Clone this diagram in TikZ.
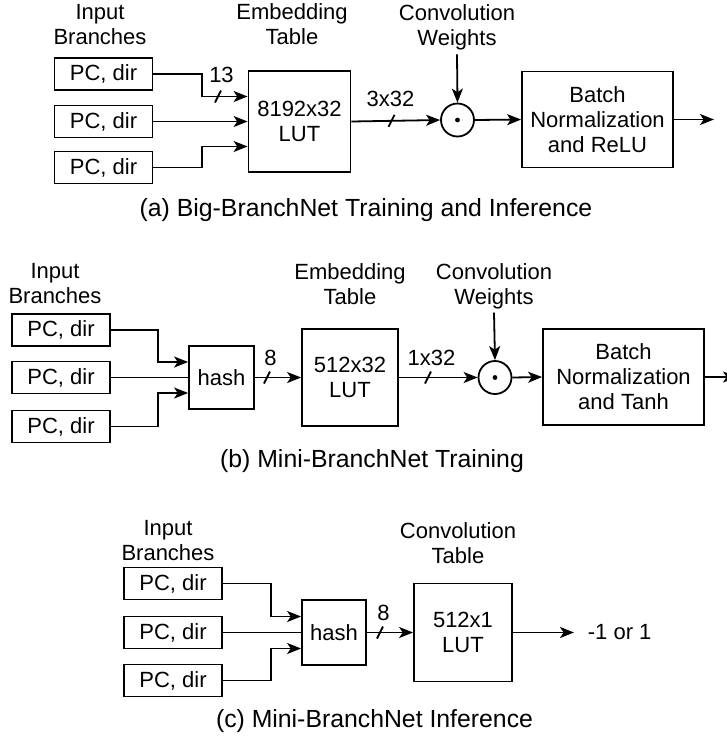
\documentclass[tikz,border=0pt]{standalone}
\usepackage{fontspec}
\setmainfont{Liberation Sans}
\usetikzlibrary{arrows.meta,calc}

\begin{document}
\begin{tikzpicture}[x=0.5pt,y=-0.5pt,>={Stealth[length=7pt,width=5.5pt,inset=1.8pt]},
  line width=0.9pt,every node/.style={font=\fontsize{11}{12.5}\selectfont},
  box/.style={draw,line width=0.9pt,align=center,inner sep=0pt},
  pcbox/.style={box,minimum width=49pt,minimum height=16pt},
  lbl/.style={align=center,inner sep=1.5pt,anchor=north},
  buslbl/.style={anchor=base,inner sep=0pt},
  captext/.style={anchor=base,inner sep=0pt,font=\fontsize{12.4}{14}\selectfont},
  dotop/.style={draw,circle,minimum size=16.5pt,inner sep=0pt},
  flow/.style={->}]
  \useasboundingbox (0,0) rectangle (727,736);

  % (a) Big-BranchNet
  \node[lbl] (inlbla) at (100,0) {Input\\Branches};
  \node[pcbox] (ina1) at (103.5,74) {PC, dir};
  \node[pcbox] (ina2) at (103.5,121.5) {PC, dir};
  \node[pcbox] (ina3) at (103.5,167.5) {PC, dir};
  \node[lbl] (emblbla) at (292,0) {Embedding\\Table};
  \node[box,minimum width=51pt,minimum height=50.5pt] (luta) at (299.5,121.5) {8192x32\\LUT};
  \node[dotop] (dota) at (457.5,120) {};
  \fill (dota) circle (1.2pt);
  \node[lbl] (wta) at (457,1) {Convolution\\Weights};
  \node[box,minimum width=75.5pt,minimum height=48pt] (bna) at (597.5,119.5) {Batch\\Normalization\\and ReLU};
  \coordinate (outa) at (714,119.5);
  \draw[flow] (ina1.east) -- ++(49,0) |- ($(luta.west)+(0,-25)$);
  \draw[flow] (ina2.east) -- (luta.west);
  \draw[flow] (ina3.east) -- ++(49,0) |- ($(luta.west)+(0,25)$);
  \draw[flow] (luta.east) -- (dota.west);
  \draw[flow] (wta.south) -- (dota.north);
  \draw[flow] (dota.east) -- (bna.west);
  \draw[flow] (bna.east) -- (outa);
  \coordinate (sa) at (218,96.5);
  \draw ($(sa)+(-3,6)$) -- ($(sa)+(3,-6)$);
  \node[buslbl] at ($(sa)+(3.5,-14.5)$) {13};
  \coordinate (sb) at (391.5,120.8);
  \draw ($(sb)+(-3,6)$) -- ($(sb)+(3,-6)$);
  \node[buslbl] at ($(sb)+(-1,-14.8)$) {3x32};
  \node[captext] (capa) at (366,216) {(a) Big-BranchNet Training and Inference};

  % (b) Mini-BranchNet training
  \node[lbl] (inlblb) at (55,259.2) {Input\\Branches};
  \node[pcbox] (inb1) at (61,330) {PC, dir};
  \node[pcbox] (inb2) at (61,377.5) {PC, dir};
  \node[pcbox] (inb3) at (61,426.5) {PC, dir};
  \node[box,minimum width=32.5pt,minimum height=31.5pt] (hashb) at (221.5,377.5) {hash};
  \node[lbl] (emblblb) at (350,259.2) {Embedding\\Table};
  \node[box,minimum width=48pt,minimum height=48.5pt] (lutb) at (350,377.5) {512x32\\LUT};
  \node[dotop] (dotb) at (495,377.5) {};
  \fill (dotb) circle (1.2pt);
  \node[lbl] (wtb) at (494,259.2) {Convolution\\Weights};
  \node[box,minimum width=80.5pt,minimum height=48pt] (bnb) at (623.5,377) {Batch\\Normalization\\and Tanh};
  \coordinate (outb) at (737,377);
  \draw[flow] (inb1.east) -- ++(47,0) |- ($(hashb.west)+(0,-15.5)$);
  \draw (inb2.east) -- (hashb.west);
  \draw[flow] (inb3.east) -- ++(47,0) |- ($(hashb.west)+(0,15.5)$);
  \draw[flow] (hashb.east) -- (lutb.west);
  \draw[flow] (lutb.east) -- (dotb.west);
  \draw[flow] (wtb.south) -- (dotb.north);
  \draw[flow] (dotb.east) -- (bnb.west);
  \begin{scope}
    \clip (0,0) rectangle (727,736);
    \draw[flow] (bnb.east) -- (outb);
  \end{scope}
  \coordinate (sc) at (267,377.5);
  \draw ($(sc)+(-3,6)$) -- ($(sc)+(3,-6)$);
  \node[buslbl] at ($(sc)+(3.5,-12.5)$) {8};
  \coordinate (sd) at (428,377.5);
  \draw ($(sd)+(-3,6)$) -- ($(sd)+(3,-6)$);
  \node[buslbl] at ($(sd)+(3.5,-12.5)$) {1x32};
  \node[captext] (capb) at (372,467) {(b) Mini-BranchNet Training};

  % (c) Mini-BranchNet inference
  \node[lbl] (inlblc) at (168,516.2) {Input\\Branches};
  \node[pcbox] (inc1) at (173,583.5) {PC, dir};
  \node[pcbox] (inc2) at (173,632.5) {PC, dir};
  \node[pcbox] (inc3) at (173,680.5) {PC, dir};
  \node[box,minimum width=32pt,minimum height=32.5pt] (hashc) at (334,632.5) {hash};
  \node[lbl] (tbllblc) at (458,518.2) {Convolution\\Table};
  \node[box,minimum width=49pt,minimum height=49pt] (lutc) at (463,632.5) {512x1\\LUT};
  \node[anchor=west,inner sep=1.5pt] (res) at (584,632.5) {-1 or 1};
  \draw[flow] (inc1.east) -- ++(48,0) |- ($(hashc.west)+(0,-16)$);
  \draw (inc2.east) -- (hashc.west);
  \draw[flow] (inc3.east) -- ++(48,0) |- ($(hashc.west)+(0,16)$);
  \draw[flow] (hashc.east) -- (lutc.west);
  \draw[flow,shorten >=5pt] (lutc.east) -- (res.west);
  \coordinate (se) at (380,632.5);
  \draw ($(se)+(-3,6)$) -- ($(se)+(3,-6)$);
  \node[buslbl] at ($(se)+(3.5,-12.5)$) {8};
  \node[captext] (capc) at (374.5,727) {(c) Mini-BranchNet Inference};
\end{tikzpicture}
\end{document}
